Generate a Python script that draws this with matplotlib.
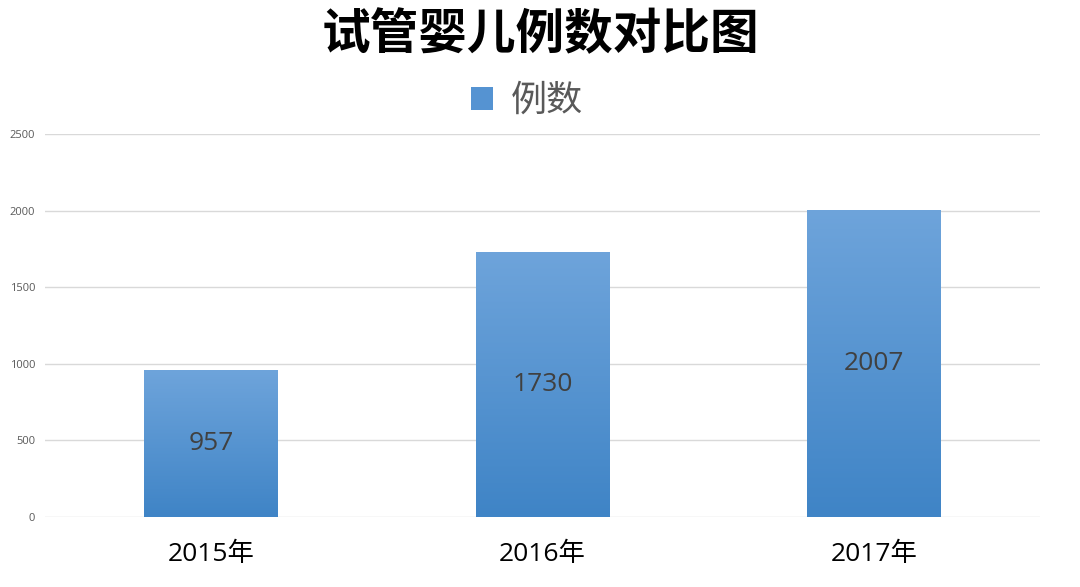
import numpy as np
import matplotlib
matplotlib.use('Agg')
import matplotlib.pyplot as plt
from matplotlib.colors import LinearSegmentedColormap
from matplotlib.patches import Patch

plt.rcParams['font.family'] = ['Open Sans', 'Noto Sans CJK SC', 'DejaVu Sans']

# 数据
years = ['2015年', '2016年', '2017年']
counts = [957, 1730, 2007]
yticks = [0, 500, 1000, 1500, 2000, 2500]

fig = plt.figure(figsize=(10.8, 5.87), dpi=100)
ax = fig.add_axes([45 / 1080, 1 - 517 / 587, 995 / 1080, 383 / 587])

x = np.arange(len(years))
bars = ax.bar(x, counts, width=0.404, color='none', edgecolor='none', zorder=3)

# 渐变填充
grad = LinearSegmentedColormap.from_list('g', ['#3f84c6', '#6ea4db'])
ramp = np.linspace(0, 1, 256).reshape(-1, 1)
for b in bars:
    x0, y0 = b.get_x(), b.get_y()
    w, h = b.get_width(), b.get_height()
    im = ax.imshow(ramp, cmap=grad, aspect='auto', origin='lower',
                   extent=[x0, x0 + w, y0, y0 + h], zorder=3)
    im.set_clip_path(b)
    ax.text(x0 + w / 2, h / 2, str(int(h)), ha='center', va='center',
            fontsize=19, color='#404040', zorder=4)

ax.set_xlim(-0.5, 2.5)
ax.set_ylim(0, 2500)
ax.set_yticks(yticks)
ax.set_yticklabels([str(v) for v in yticks], fontsize=8, color='#595959')
ax.set_xticks(x)
ax.set_xticklabels(years, fontsize=19, color='black')
ax.tick_params(axis='both', length=0)
ax.tick_params(axis='x', pad=18)
ax.tick_params(axis='y', pad=7)
ax.grid(axis='y', color='#d9d9d9', linewidth=1, zorder=0)
ax.set_axisbelow(True)
for s in ax.spines.values():
    s.set_visible(False)

fig.text(0.5, 1 - 35 / 587, '试管婴儿例数对比图', ha='center', va='center',
         fontsize=35, fontweight='bold', color='black',
         family=['Noto Sans CJK SC'])

handle = Patch(facecolor='#5593d2', edgecolor='none')
fig.legend([handle], ['例数'], loc='center', bbox_to_anchor=(0.488, 1 - 101 / 587),
           frameon=False, prop={'family': ['Noto Sans CJK SC'], 'size': 26},
           labelcolor='#595959',
           handlelength=0.6, handleheight=0.6, handletextpad=0.5)

fig.savefig('out.png', dpi=100)
